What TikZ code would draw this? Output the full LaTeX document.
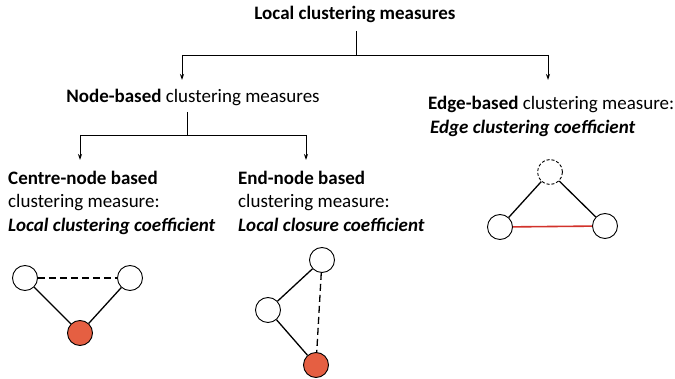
\documentclass[tikz,border=0pt]{standalone}
\usepackage{fontspec}
\setmainfont{Carlito}
\usetikzlibrary{arrows.meta}
\definecolor{nodered}{HTML}{E55F42}
\definecolor{edgered}{HTML}{D2322B}
\begin{document}
\begin{tikzpicture}[x=1pt,y=-1pt,
  lbl/.style={inner sep=0pt,font=\fontsize{19}{23}\selectfont},
  tree/.style={line width=0.9pt},
  arr/.style={tree,-{Stealth[length=6pt,width=4pt]}},
  vtx/.style={circle,draw,line width=0.9pt,minimum size=25pt,inner sep=0pt,fill=white},
  hot/.style={vtx,fill=nodered},
  ghost/.style={vtx,dash pattern=on 3pt off 2pt},
  edge/.style={line width=1.3pt},
  missing/.style={edge,dash pattern=on 7pt off 4pt}]
\useasboundingbox (0,0) rectangle (675,379);

% hierarchy labels
\node[lbl,anchor=base] (root) at (355,20) {\textbf{Local clustering measures}};
\node[lbl,anchor=base] (nodeb) at (193,103) {\textbf{Node-based} clustering measures};
\node[lbl,anchor=base west] (edgeb) at (428,110) {\textbf{Edge-based} clustering measure:};
\node[lbl,anchor=base west] (edgec) at (430,134) {\textbf{\itshape Edge clustering coefficient}};

\node[lbl,anchor=base west] (centre) at (8,185) {\textbf{Centre-node based}};
\node[lbl,anchor=base west] (centre2) at (8,208) {clustering measure:};
\node[lbl,anchor=base west] (centre3) at (8,232) {\textbf{\itshape Local clustering coefficient}};

\node[lbl,anchor=base west] (endn) at (238,185) {\textbf{End-node based}};
\node[lbl,anchor=base west] (endn2) at (238,208) {clustering measure:};
\node[lbl,anchor=base west] (endn3) at (238,232) {\textbf{\itshape Local closure coefficient}};

% tree connectors
\coordinate (r1) at (356,31);
\coordinate (r2) at (356,55);
\coordinate (rl) at (182,55);
\coordinate (rr) at (548,55);
\coordinate (rla) at (182,80);
\coordinate (rra) at (548,80);
\draw[tree] (r1) -- (r2);
\draw[tree] (rl) -- (rr);
\draw[arr] (rl) -- (rla);
\draw[arr] (rr) -- (rra);

\coordinate (n1) at (187,112);
\coordinate (n2) at (187,135);
\coordinate (nl) at (80,135);
\coordinate (nr) at (306,135);
\coordinate (nla) at (80,160);
\coordinate (nra) at (306,160);
\draw[tree] (n1) -- (n2);
\draw[tree] (nl) -- (nr);
\draw[arr] (nl) -- (nla);
\draw[arr] (nr) -- (nra);

% centre-node triangle
\node[vtx] (a1) at (25,278) {};
\node[vtx] (a2) at (130,278) {};
\node[hot] (a3) at (80,333) {};
\draw[edge] (a1) -- (a3);
\draw[edge] (a2) -- (a3);
\draw[missing] (a1) -- (a2);

% end-node triangle
\node[vtx] (b1) at (322,260) {};
\node[vtx] (b2) at (268,310) {};
\node[hot] (b3) at (316,365) {};
\draw[edge] (b1) -- (b2);
\draw[edge] (b2) -- (b3);
\draw[missing] (b1) -- (b3);

% edge triangle
\node[ghost] (c1) at (550,172) {};
\node[vtx] (c2) at (500,227) {};
\node[vtx] (c3) at (605,226) {};
\draw[edge] (c1) -- (c2);
\draw[edge] (c1) -- (c3);
\draw[edge,edgered,line width=1.6pt] (c2) -- (c3);
\end{tikzpicture}
\end{document}
